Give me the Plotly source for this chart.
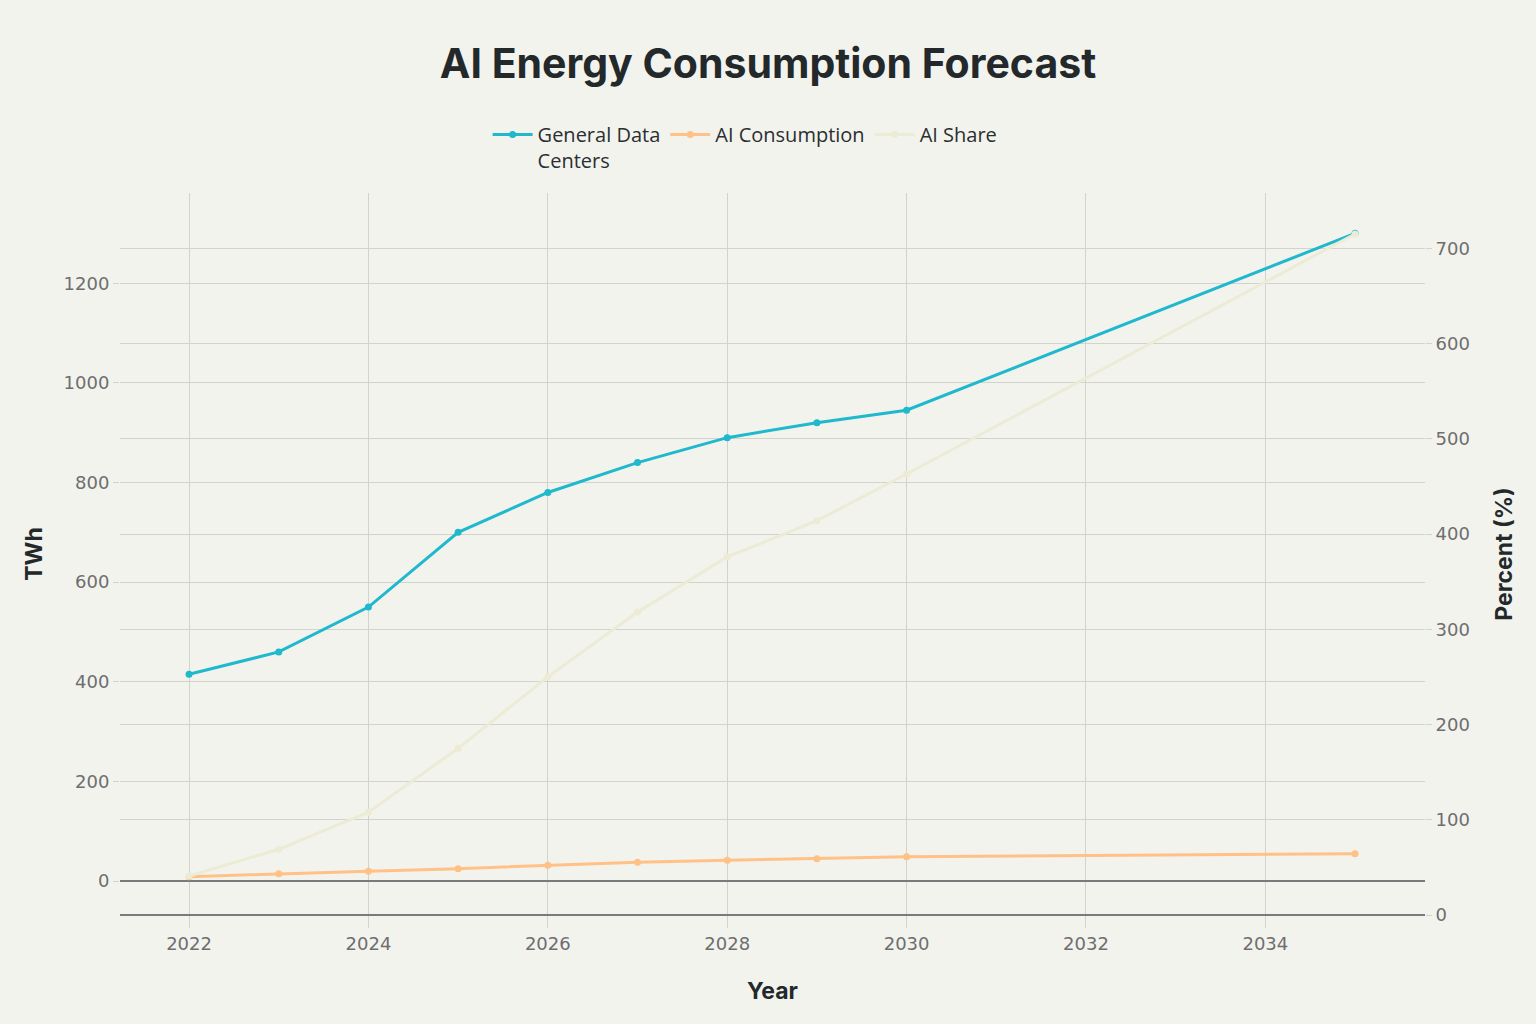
import plotly.graph_objects as go

years = [2022, 2023, 2024, 2025, 2026, 2027, 2028, 2029, 2030, 2035]
general_dc = [415, 460, 550, 700, 780, 840, 890, 920, 945, 1300]
ai_consumption = [9, 15, 20, 25, 32, 38, 42, 45, 49, 55]
ai_share = [41, 69, 108, 175, 250, 318, 376, 414, 463, 715]

names = ["General Data<br>Centers", "AI Consumption", "AI Share"]
colors = ["#1FB8CD", "#FFC185", "#ECEBD5"]

BG = "#F3F3EE"
GRID = "#D3D3CD"
TICK_FONT = dict(family="DejaVu Sans", size=18, color="#6E6E6E")
TITLE_FONT = dict(family="Inter", size=23, color="#23292B")

fig = go.Figure()
fig.add_trace(go.Scatter(x=years, y=general_dc, name=names[0], mode="lines+markers",
                         line=dict(color=colors[0], width=3), marker=dict(size=7, color=colors[0]),
                         yaxis="y"))
fig.add_trace(go.Scatter(x=years, y=ai_consumption, name=names[1], mode="lines+markers",
                         line=dict(color=colors[1], width=3), marker=dict(size=7, color=colors[1]),
                         yaxis="y"))
fig.add_trace(go.Scatter(x=years, y=ai_share, name=names[2], mode="lines+markers",
                         line=dict(color=colors[2], width=3), marker=dict(size=7, color=colors[2]),
                         yaxis="y2"))

fig.update_layout(
    width=1536, height=1024,
    paper_bgcolor=BG, plot_bgcolor=BG,
    margin=dict(l=120, r=111, t=193, b=109),
    title=dict(text="<b>AI Energy Consumption Forecast</b>", x=0.5, xanchor="center",
               y=0.938, yanchor="middle",
               font=dict(family="Inter", size=41, color="#23292B")),
    legend=dict(orientation="h", x=0.479, xanchor="center", y=1.108, yanchor="top",
                font=dict(family="Open Sans", size=20, color="#2A2F30"),
                bgcolor="rgba(0,0,0,0)", itemwidth=40, valign="top"),
    xaxis=dict(range=[2021.23, 2035.78], dtick=2, tick0=2022,
               showgrid=True, gridcolor=GRID, gridwidth=1,
               zeroline=False, showline=False,
               ticks="outside", ticklen=12, tickcolor=GRID, tickfont=TICK_FONT,
               title=dict(text="<b>Year</b>", font=TITLE_FONT, standoff=30)),
    yaxis=dict(range=[-68, 1381], dtick=200, tick0=0,
               showgrid=True, gridcolor=GRID, gridwidth=1,
               zeroline=True, zerolinecolor="#7A7A7A", zerolinewidth=1.5,
               showline=False, ticks="outside", ticklen=6, tickcolor=GRID,
               tickfont=TICK_FONT,
               title=dict(text="<b>TWh</b>", font=TITLE_FONT, standoff=14)),
    yaxis2=dict(range=[0, 758], dtick=100, tick0=0, overlaying="y", side="right",
                showgrid=True, gridcolor=GRID, gridwidth=1,
                zeroline=True, zerolinecolor="#7A7A7A", zerolinewidth=1.5,
                showline=False, ticks="outside", ticklen=6, tickcolor=GRID,
                tickfont=TICK_FONT,
                title=dict(text="<b>Percent (%)</b>", font=TITLE_FONT, standoff=26)),
)

fig.write_html("out.html")
